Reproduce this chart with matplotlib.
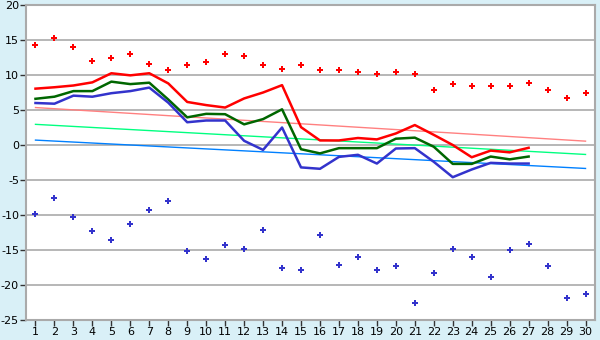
import numpy as np
import matplotlib
matplotlib.use('Agg')
import matplotlib.pyplot as plt

plt.rcParams['axes.unicode_minus'] = False

days = list(range(1, 31))
line_days = list(range(1, 28))

# daily extremes (markers)
day_max = [14.3, 15.3, 14.0, 12.0, 12.4, 13.0, 11.6, 10.7, 11.4, 11.9,
           13.0, 12.7, 11.5, 10.8, 11.4, 10.7, 10.7, 10.4, 10.2, 10.4,
           10.2, 7.9, 8.7, 8.4, 8.4, 8.4, 8.8, 7.9, 6.7, 7.4]
day_min = [-9.9, -7.6, -10.3, -12.3, -13.6, -11.3, -9.3, -8.0, -15.2, -16.3,
           -14.3, -14.9, -12.2, -17.6, -17.8, -12.8, -17.2, -16.0, -17.8, -17.3,
           -22.6, -18.3, -14.8, -16.0, -18.9, -15.0, -14.2, -17.3, -21.8, -21.3]

# running curves
upper = [8.05, 8.25, 8.5, 8.95, 10.25, 9.95, 10.25, 8.8, 6.15, 5.7,
         5.35, 6.65, 7.5, 8.55, 2.55, 0.65, 0.65, 1.0, 0.8, 1.65,
         2.85, 1.45, 0.0, -1.75, -0.8, -1.05, -0.4]
middle = [6.6, 6.9, 7.7, 7.7, 9.05, 8.7, 8.9, 6.5, 3.95, 4.45,
          4.4, 2.95, 3.7, 5.1, -0.6, -1.2, -0.45, -0.45, -0.45, 0.9,
          1.05, -0.25, -2.7, -2.7, -1.65, -2.05, -1.65]
lower = [6.0, 5.9, 7.05, 6.9, 7.4, 7.7, 8.2, 6.05, 3.25, 3.5,
         3.5, 0.6, -0.7, 2.5, -3.2, -3.4, -1.7, -1.4, -2.65, -0.5,
         -0.45, -2.4, -4.6, -3.5, -2.55, -2.65, -2.65]

# trend lines (value at day 1, value at day 30)
trend_days = [1, 30]
trend_upper = [5.35, 0.55]
trend_middle = [2.95, -1.35]
trend_lower = [0.7, -3.35]

bg = '#d9f0f7'
fig = plt.figure(figsize=(6, 3.4), dpi=100, facecolor=bg)
ax = fig.add_axes([26/600, 20/340, 569/600, 315/340])
ax.set_facecolor('white')

ax.plot(trend_days, trend_upper, color='#ff8080', lw=1)
ax.plot(trend_days, trend_middle, color='#00ff80', lw=1)
ax.plot(trend_days, trend_lower, color='#0080ff', lw=1)

ax.plot(line_days, upper, color='#ff0000', lw=1.8)
ax.plot(line_days, middle, color='#006600', lw=1.8)
ax.plot(line_days, lower, color='#3333cc', lw=1.8)

ax.plot(days, day_max, ls='none', marker='P', ms=4.4, color='#ff0000', mew=0)
ax.plot(days, day_min, ls='none', marker='P', ms=4.4, color='#3333cc', mew=0)

ax.set_xlim(0.5, 30.5)
ax.set_ylim(-25, 20)
ax.set_xticks(days)
ax.set_yticks(range(-25, 21, 5))
ax.yaxis.grid(True, color='#aaaaaa', lw=1.2)
ax.set_axisbelow(True)
for s in ax.spines.values():
    s.set_color('#aaaaaa')
    s.set_linewidth(1.5)
ax.tick_params(axis='both', direction='out', length=4, width=1,
               color='#333333', labelsize=8, pad=1)

plt.savefig('out.png', dpi=100, facecolor=bg)
